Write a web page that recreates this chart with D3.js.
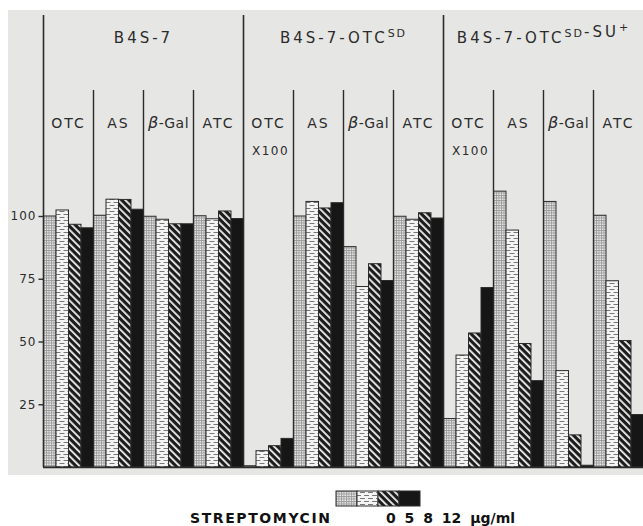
<!DOCTYPE html>
<html>
<head>
<meta charset="utf-8">
<script src="https://cdn.jsdelivr.net/npm/d3@7"></script>
<style>
  body { margin: 0; background: #fff; }
  svg { display: block; font-family: "DejaVu Sans", sans-serif; }
</style>
</head>
<body>
<svg id="chart" width="643" height="526"></svg>
<script>
// data (% of control)
const strains = ["B4S-7", "B4S-7-OTC^SD", "B4S-7-OTC^SD-SU^+"];
const assays = ["OTC", "AS", "β-Gal", "ATC"];
const doses = [0, 5, 8, 12];
const yTicks = [25, 50, 75, 100];

const b4s7 = [[100, 102.4, 96.7, 95.3], [100.3, 106.7, 106.6, 102.7], [99.9, 98.7, 96.9, 96.9], [100.1, 98.9, 102, 99]];
const otcSD = [[0.5, 6.5, 8.5, 11.4], [100, 105.8, 103.2, 105.3], [87.8, 71.9, 81, 74.3], [99.9, 98.7, 101.3, 99.2]];
const otcSDsu = [[19.3, 44.6, 53.4, 71.5], [109.9, 94.4, 49.2, 34.4], [105.8, 38.4, 12.8, 0.7], [100.3, 74.2, 50.4, 20.9]];
const values = [b4s7, otcSD, otcSDsu];

const svg = d3.select("#chart");
const ink = "#2b2b2b";

// paper background
svg.append("rect").attr("x", 8).attr("y", 10).attr("width", 635).attr("height", 465).attr("fill", "#e6e6e4");

// patterns for the four doses
const defs = svg.append("defs");
const p0 = defs.append("pattern").attr("id", "pat0").attr("patternUnits", "userSpaceOnUse").attr("width", 2.5).attr("height", 2.5);
p0.append("rect").attr("width", 2.5).attr("height", 2.5).attr("fill", "#f2f2f2");
p0.append("path").attr("d", "M0,0.5H2.5M0.5,0V2.5").attr("stroke", "#9a9a9a").attr("stroke-width", 0.9);

const p1 = defs.append("pattern").attr("id", "pat1").attr("patternUnits", "userSpaceOnUse").attr("width", 8).attr("height", 6);
p1.append("rect").attr("width", 8).attr("height", 6).attr("fill", "#f4f4f4");
p1.append("path").attr("d", "M0,1.5H5M4,4.5H9M-4,4.5H1").attr("stroke", "#777").attr("stroke-width", 1.2);

const p2 = defs.append("pattern").attr("id", "pat2").attr("patternUnits", "userSpaceOnUse")
  .attr("width", 5).attr("height", 5).attr("patternTransform", "rotate(-45)");
p2.append("rect").attr("width", 5).attr("height", 5).attr("fill", "#1c1c1c");
p2.append("rect").attr("x", 0).attr("width", 1.8).attr("height", 5).attr("fill", "#f0f0f0");

const fills = ["url(#pat0)", "url(#pat1)", "url(#pat2)", "#161616"];

// scales
const keys = [];
strains.forEach((s, i) => assays.forEach((a, j) => keys.push(i + "-" + j)));
const x = d3.scaleBand().domain(keys).range([43.5, 643.5]).padding(0);
const xd = d3.scaleBand().domain(doses).range([0, x.bandwidth()]).padding(0);
const y = d3.scaleLinear().domain([0, 100]).range([467, 216]);

// bars
strains.forEach((s, i) => {
  assays.forEach((a, j) => {
    const g = svg.append("g").attr("transform", `translate(${x(i + "-" + j)},0)`);
    g.selectAll("rect")
      .data(values[i][j])
      .enter()
      .append("rect")
      .attr("x", (d, k) => xd(doses[k]))
      .attr("y", d => y(d))
      .attr("width", xd.bandwidth())
      .attr("height", d => y(0) - y(d))
      .attr("fill", (d, k) => fills[k])
      .attr("stroke", ink)
      .attr("stroke-width", 1);
  });
});

// frame lines
strains.forEach((s, i) => {
  const x0 = x(i + "-0");
  svg.append("line").attr("x1", x0).attr("x2", x0).attr("y1", 15).attr("y2", y(0))
    .attr("stroke", ink).attr("stroke-width", 1.6);
  for (let j = 1; j < assays.length; j++) {
    const xj = x(i + "-" + j);
    svg.append("line").attr("x1", xj).attr("x2", xj).attr("y1", 90).attr("y2", y(0))
      .attr("stroke", ink).attr("stroke-width", 1.4);
  }
});
svg.append("line").attr("x1", 43).attr("x2", 643).attr("y1", y(0) + 0.5).attr("y2", y(0) + 0.5)
  .attr("stroke", ink).attr("stroke-width", 1.6);

// y axis
const yAxis = svg.append("g").attr("transform", "translate(43.5,0)")
  .call(d3.axisLeft(y).tickValues(yTicks).tickSize(5).tickPadding(2));
yAxis.select(".domain").remove();
yAxis.selectAll("line").attr("stroke", ink).attr("stroke-width", 1.4);
yAxis.selectAll("text").attr("fill", ink).style("font-size", "12px").style("letter-spacing", "1px")
  .style("font-family", "DejaVu Sans, sans-serif");

// strain titles
strains.forEach((s, i) => {
  const cx = x(i + "-0") + x.bandwidth() * 2;
  const t = svg.append("text").attr("x", cx).attr("y", 43).attr("text-anchor", "middle")
    .attr("fill", ink).style("font-size", "15px").style("letter-spacing", "3px");
  s.split(/(\^[A-Z+]+)/).filter(p => p).forEach(p => {
    if (p[0] === "^") {
      t.append("tspan").attr("dy", -6).style("font-size", "11px").style("letter-spacing", "2px").text(p.slice(1));
      t.append("tspan").attr("dy", 6).text("");
    } else {
      t.append("tspan").text(p);
    }
  });
});

// assay labels
strains.forEach((s, i) => {
  assays.forEach((a, j) => {
    const cx = x(i + "-" + j) + x.bandwidth() / 2;
    const t = svg.append("text").attr("x", cx).attr("y", 128).attr("text-anchor", "middle")
      .attr("fill", ink).style("font-size", "14px").style("letter-spacing", "2px");
    if (a === "β-Gal") {
      t.style("letter-spacing", "0.5px");
      t.append("tspan").style("font-style", "italic").style("font-size", "16px").text("β");
      t.append("tspan").text("-Gal");
    } else {
      t.text(a);
    }
    if (i > 0 && a === "OTC") {
      svg.append("text").attr("x", cx + 2).attr("y", 155).attr("text-anchor", "middle")
        .attr("fill", ink).style("font-size", "12px").style("letter-spacing", "1.5px").text("X100");
    }
  });
});

// legend
const lg = svg.append("g").attr("transform", "translate(336,491)");
lg.selectAll("rect")
  .data(doses)
  .enter()
  .append("rect")
  .attr("x", (d, k) => k * 21)
  .attr("y", 0)
  .attr("width", 21)
  .attr("height", 15)
  .attr("fill", (d, k) => fills[k])
  .attr("stroke", ink)
  .attr("stroke-width", 1);

svg.append("text").attr("x", 190).attr("y", 523).attr("fill", "#111")
  .style("font-size", "14px").style("font-weight", "bold")
  .attr("textLength", 140).attr("lengthAdjust", "spacing").text("STREPTOMYCIN");
svg.append("text").attr("x", 386).attr("y", 523).attr("fill", "#111")
  .style("font-size", "14px").style("font-weight", "bold").style("word-spacing", "4px")
  .text(doses.join(" ") + " μg/ml");
</script>
</body>
</html>
